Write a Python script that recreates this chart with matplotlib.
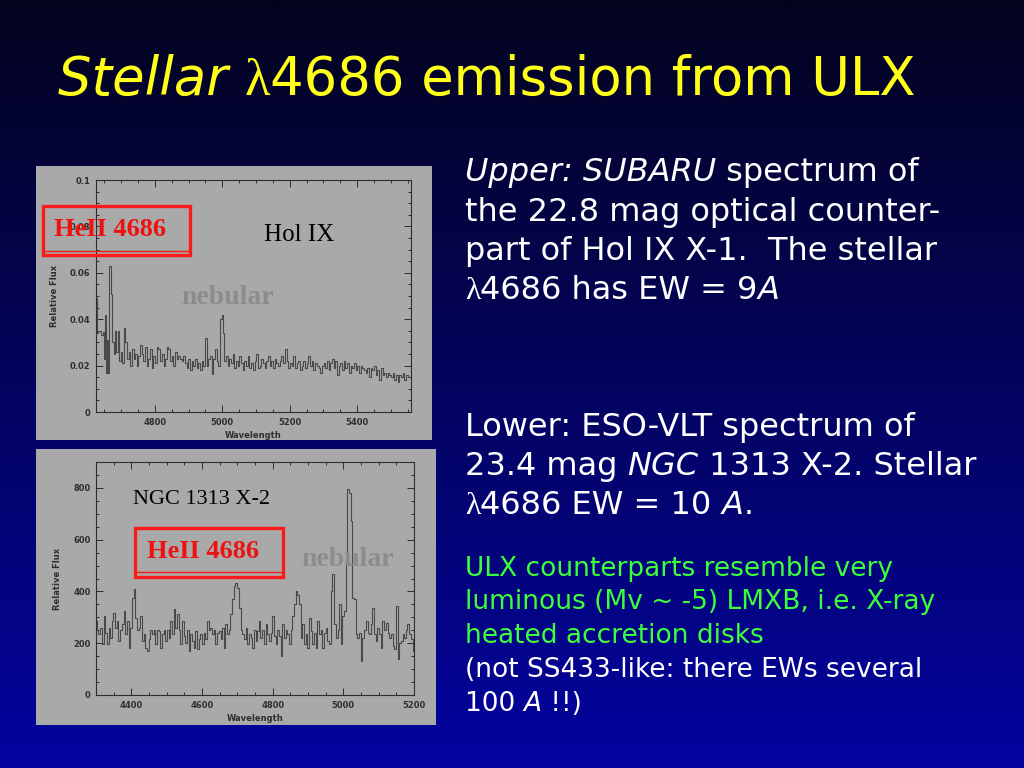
import numpy as np
import matplotlib
matplotlib.use("Agg")
import matplotlib.pyplot as plt
from matplotlib.patches import Rectangle
from matplotlib.lines import Line2D
from matplotlib.ticker import MultipleLocator, FuncFormatter

# --- data ----------------------------------------------------------------

# Hol IX X-1 (SUBARU), relative flux
hol_wave = [4626, 4628, 4635, 4643, 4648, 4650, 4652, 4655, 4658, 4661, 4664, 4668,
            4671, 4675, 4679, 4683, 4687, 4691, 4696, 4700, 4705, 4710, 4714, 4719,
            4724, 4729, 4734, 4739, 4744, 4749, 4753, 4758, 4763, 4768, 4773, 4778,
            4783, 4788, 4793, 4798, 4803, 4808, 4813, 4818, 4823, 4828, 4832, 4837,
            4842, 4847, 4852, 4857, 4862, 4867, 4872, 4877, 4882, 4887, 4892, 4897,
            4902, 4907, 4911, 4916, 4921, 4926, 4931, 4936, 4941, 4946, 4951, 4956,
            4961, 4966, 4971, 4976, 4981, 4986, 4991, 4996, 5000, 5004, 5008, 5013,
            5018, 5023, 5028, 5033, 5038, 5043, 5048, 5053, 5058, 5063, 5068, 5073,
            5078, 5083, 5088, 5093, 5098, 5103, 5108, 5113, 5118, 5123, 5128, 5133,
            5138, 5143, 5148, 5153, 5158, 5163, 5168, 5173, 5178, 5183, 5188, 5193,
            5198, 5203, 5208, 5213, 5218, 5223, 5228, 5233, 5238, 5243, 5248, 5253,
            5258, 5263, 5268, 5273, 5278, 5283, 5288, 5293, 5298, 5303, 5308, 5313,
            5318, 5323, 5328, 5333, 5338, 5343, 5348, 5353, 5358, 5363, 5368, 5373,
            5378, 5383, 5388, 5393, 5398, 5403, 5408, 5413, 5418, 5423, 5428, 5433,
            5438, 5443, 5448, 5453, 5458, 5463, 5468, 5473, 5478, 5483, 5488, 5493,
            5498, 5503, 5508, 5513, 5518, 5523, 5528, 5533, 5538, 5543, 5548, 5553]
hol_flux = [0.049, 0.034, 0.035, 0.033, 0.0345, 0.023, 0.042, 0.017, 0.031, 0.017, 0.063, 0.063,
            0.051, 0.030, 0.025, 0.035, 0.026, 0.035, 0.022, 0.026, 0.021, 0.036, 0.030, 0.023,
            0.026, 0.020, 0.027, 0.023, 0.025, 0.020, 0.024, 0.029, 0.025, 0.022, 0.028, 0.020,
            0.023, 0.027, 0.019, 0.024, 0.021, 0.028, 0.027, 0.022, 0.025, 0.020, 0.023, 0.028,
            0.027, 0.022, 0.024, 0.020, 0.026, 0.023, 0.024, 0.023, 0.022, 0.024, 0.021, 0.019,
            0.023, 0.018, 0.022, 0.020, 0.023, 0.019, 0.021, 0.018, 0.022, 0.020, 0.032, 0.020,
            0.023, 0.024, 0.0165, 0.023, 0.027, 0.022, 0.020, 0.040, 0.042, 0.034, 0.022, 0.024,
            0.020, 0.023, 0.021, 0.025, 0.019, 0.022, 0.020, 0.024, 0.021, 0.018, 0.022, 0.020,
            0.024, 0.019, 0.021, 0.018, 0.022, 0.025, 0.019, 0.020, 0.023, 0.021, 0.019, 0.022,
            0.024, 0.020, 0.022, 0.019, 0.023, 0.021, 0.020, 0.022, 0.024, 0.021, 0.027, 0.022,
            0.019, 0.021, 0.020, 0.024, 0.019, 0.021, 0.022, 0.018, 0.020, 0.022, 0.019, 0.021,
            0.024, 0.020, 0.022, 0.018, 0.021, 0.020, 0.019, 0.017, 0.020, 0.021, 0.019, 0.022,
            0.018, 0.021, 0.023, 0.019, 0.022, 0.016, 0.020, 0.021, 0.018, 0.022, 0.019, 0.021,
            0.017, 0.020, 0.019, 0.021, 0.018, 0.020, 0.017, 0.020, 0.019, 0.018, 0.017, 0.019,
            0.015, 0.019, 0.018, 0.020, 0.016, 0.018, 0.014, 0.019, 0.016, 0.017, 0.015, 0.017,
            0.016, 0.015, 0.017, 0.014, 0.016, 0.013, 0.016, 0.015, 0.017, 0.014, 0.016, 0.015]

# NGC 1313 X-2 (ESO-VLT), relative flux
ngc_wave = [4300, 4305, 4309, 4314, 4319, 4324, 4328, 4333, 4338, 4343, 4347, 4352,
            4357, 4361, 4366, 4371, 4376, 4380, 4385, 4390, 4395, 4399, 4404, 4409,
            4413, 4418, 4423, 4428, 4432, 4437, 4442, 4447, 4451, 4456, 4461, 4465,
            4470, 4475, 4480, 4484, 4489, 4494, 4499, 4503, 4508, 4513, 4517, 4522,
            4527, 4532, 4536, 4541, 4546, 4551, 4555, 4560, 4565, 4569, 4574, 4579,
            4584, 4588, 4593, 4598, 4603, 4607, 4612, 4617, 4622, 4626, 4631, 4636,
            4640, 4645, 4650, 4655, 4659, 4664, 4669, 4674, 4678, 4683, 4688, 4692,
            4697, 4702, 4707, 4711, 4716, 4721, 4726, 4730, 4735, 4740, 4744, 4749,
            4754, 4759, 4763, 4768, 4773, 4778, 4782, 4787, 4792, 4796, 4801, 4806,
            4811, 4815, 4820, 4825, 4830, 4834, 4839, 4844, 4848, 4853, 4858, 4863,
            4867, 4872, 4877, 4882, 4886, 4891, 4896, 4900, 4905, 4910, 4915, 4919,
            4924, 4929, 4934, 4938, 4943, 4948, 4952, 4957, 4962, 4967, 4971, 4976,
            4981, 4986, 4990, 4995, 5000, 5004, 5009, 5014, 5019, 5023, 5028, 5033,
            5038, 5042, 5047, 5052, 5056, 5061, 5066, 5071, 5075, 5080, 5085, 5090,
            5094, 5099, 5104, 5108, 5113, 5118, 5123, 5127, 5132, 5137, 5142, 5146,
            5151, 5156, 5160, 5165, 5170, 5175, 5179, 5184, 5189, 5194, 5198]
ngc_flux = [286, 253, 234, 260, 196, 305, 241, 196, 260, 221, 286, 318,
            260, 286, 208, 253, 273, 324, 234, 286, 183, 260, 376, 408,
            298, 253, 260, 305, 208, 234, 183, 170, 215, 253, 234, 253,
            196, 253, 247, 183, 234, 253, 208, 253, 221, 286, 234, 331,
            260, 311, 253, 196, 286, 228, 202, 253, 170, 234, 208, 183,
            247, 176, 215, 234, 196, 241, 215, 286, 253, 260, 234, 253,
            196, 241, 247, 215, 260, 183, 273, 234, 253, 311, 369, 421,
            433, 414, 337, 253, 234, 215, 260, 196, 234, 221, 183, 253,
            208, 247, 286, 221, 253, 196, 273, 234, 208, 241, 305, 228,
            196, 253, 228, 150, 273, 221, 253, 234, 196, 253, 305, 350,
            401, 388, 350, 221, 273, 196, 234, 183, 298, 247, 196, 241,
            183, 286, 234, 253, 183, 241, 260, 208, 196, 401, 466, 273,
            221, 253, 350, 196, 305, 324, 530, 794, 781, 671, 376, 369,
            234, 221, 241, 131, 221, 253, 286, 241, 234, 273, 337, 234,
            208, 260, 234, 183, 286, 253, 279, 241, 221, 234, 189, 176,
            343, 138, 202, 208, 234, 221, 253, 273, 234, 215, 170]

title_parts = [("Stellar ", "italic"), ("\u03bb", "serif"), ("4686 emission from ULX", None)]
upper_lines = [[("Upper: SUBARU", "italic"), (" spectrum of", None)],
               [("the 22.8 mag optical counter-", None)],
               [("part of Hol IX X-1.  The stellar", None)],
               [("\u03bb", "serif"), ("4686 has EW = 9", None), ("A", "italic")]]
lower_lines = [[("Lower: ESO-VLT spectrum of", None)],
               [("23.4 mag ", None), ("NGC", "italic"), (" 1313 X-2. Stellar", None)],
               [("\u03bb", "serif"), ("4686 EW = 10 ", None), ("A", "italic"), (".", None)]]
green_lines = [[("ULX counterparts resemble very", None)],
               [("luminous (Mv ~ -5) LMXB, i.e. X-ray", None)],
               [("heated accretion disks", None)]]
note_lines = [[("(not SS433-like: there EWs several", None)],
              [("100 ", None), ("A", "italic"), (" !!)", None)]]

# --- figure ----------------------------------------------------------------
W, H = 1024, 768
fig = plt.figure(figsize=(W / 100, H / 100), dpi=100)
renderer = fig.canvas.get_renderer()


def fx(x):
    return x / W


def fy(y):
    return 1 - y / H


# background gradient, dark navy at top to blue at the bottom
bg = fig.add_axes([0, 0, 1, 1])
bg.set_zorder(-10)
top = np.array([3, 3, 30]) / 255
bottom = np.array([4, 4, 160]) / 255
t = np.linspace(0, 1, 256)[:, None, None]
grad = top * (1 - t) + bottom * t
bg.imshow(np.repeat(grad, 2, axis=1), aspect="auto", extent=[0, 1, 0, 1])
bg.axis("off")

PANEL_GREY = "#a9a9a9"
INK = "#2e2e2e"


def spectrum(panel, axbox, wave, flux, xlim, ylim, ystep, yminor, fmt):
    x0, y0, x1, y1 = panel
    fig.add_artist(Rectangle((fx(x0), fy(y1)), fx(x1 - x0), (y1 - y0) / H,
                             transform=fig.transFigure, facecolor=PANEL_GREY,
                             edgecolor="none", zorder=-5))
    l, tp, r, b = axbox
    ax = fig.add_axes([fx(l), fy(b), fx(r - l), (b - tp) / H])
    ax.set_facecolor("none")
    ax.plot(wave, flux, drawstyle="steps-mid", color="#4a4a4a", lw=0.8)
    ax.set_xlim(*xlim)
    ax.set_ylim(*ylim)
    ax.xaxis.set_major_locator(MultipleLocator(200))
    ax.xaxis.set_minor_locator(MultipleLocator(50))
    ax.yaxis.set_major_locator(MultipleLocator(ystep))
    ax.yaxis.set_minor_locator(MultipleLocator(yminor))
    ax.yaxis.set_major_formatter(FuncFormatter(fmt))
    ax.tick_params(which="both", direction="in", top=True, right=True,
                   colors=INK, labelsize=6, width=0.7)
    ax.tick_params(which="major", length=5, pad=4)
    ax.tick_params(which="minor", length=2.5)
    for lab in ax.get_xticklabels() + ax.get_yticklabels():
        lab.set_fontweight("bold")
    for sp in ax.spines.values():
        sp.set_color(INK)
        sp.set_linewidth(0.8)
    ax.set_xlabel("Wavelength", fontsize=6, fontweight="bold", color=INK, labelpad=3)
    ax.set_ylabel("Relative Flux", fontsize=6, fontweight="bold", color=INK, labelpad=8)
    return ax


spectrum((36, 166, 432, 440), (96, 180, 411, 412), hol_wave, hol_flux,
         (4625, 5560), (0, 0.1), 0.02, 0.005, lambda v, p: "%g" % round(v, 3))
spectrum((36, 449, 436, 725), (96, 462, 414, 695), ngc_wave, ngc_flux,
         (4300, 5200), (0, 900), 200, 50, lambda v, p: "%d" % v)


def label_box(x0, y0, x1, y1, inner):
    fig.add_artist(Rectangle((fx(x0), fy(y1)), fx(x1 - x0), (y1 - y0) / H,
                             transform=fig.transFigure, fill=False,
                             edgecolor="#ff1a1a", lw=2.4, zorder=6))
    fig.add_artist(Line2D([fx(x0), fx(x1)], [fy(inner), fy(inner)],
                          transform=fig.transFigure, color="#ff1a1a", lw=1.0, zorder=6))


serif = "Liberation Serif"
label_box(43, 206, 190, 255, 251)
fig.text(fx(54), fy(229), "HeII 4686", family=serif, fontweight="bold", fontsize=19,
         color="#ee1111", va="center", zorder=7)
fig.text(fx(264), fy(235), "Hol IX", family=serif, fontsize=18, color="black", va="center")
fig.text(fx(181), fy(297), "nebular", family=serif, fontweight="bold", fontsize=20,
         color="#8c8c8c", va="center")

label_box(135, 528, 283, 577, 572)
fig.text(fx(147), fy(551), "HeII 4686", family=serif, fontweight="bold", fontsize=19,
         color="#ee1111", va="center", zorder=7)
fig.text(fx(133), fy(500), "NGC 1313 X-2", family=serif, fontsize=16, color="black", va="center")
fig.text(fx(301), fy(560), "nebular", family=serif, fontweight="bold", fontsize=20,
         color="#8c8c8c", va="center")


def style_kw(style):
    if style == "italic":
        return {"style": "italic", "family": "DejaVu Sans"}
    if style == "serif":
        return {"family": serif}
    return {"family": "DejaVu Sans"}


def advance(s, size, kw):
    a = fig.text(0, 0, s + "|", fontsize=size, **kw)
    b = fig.text(0, 0, "|", fontsize=size, **kw)
    w = a.get_window_extent(renderer).width - b.get_window_extent(renderer).width
    a.remove()
    b.remove()
    return w


def write(x, y, parts, size, color):
    for s, style in parts:
        kw = style_kw(style)
        fig.text(fx(x), fy(y), s, fontsize=size, color=color, va="baseline", **kw)
        x += advance(s, size, kw)


write(58, 95, title_parts, 38, "#ffff1a")

for i, parts in enumerate(upper_lines):
    write(465, 181.5 + 39.3 * i, parts, 23, "white")
for i, parts in enumerate(lower_lines):
    write(465, 436 + 39.0 * i, parts, 23, "white")
for i, parts in enumerate(green_lines):
    write(465, 575.5 + 33.8 * i, parts, 19, "#3cff3c")
for i, parts in enumerate(note_lines):
    write(465, 676.9 + 33.8 * i, parts, 19, "white")

fig.savefig("out.png", dpi=100)
